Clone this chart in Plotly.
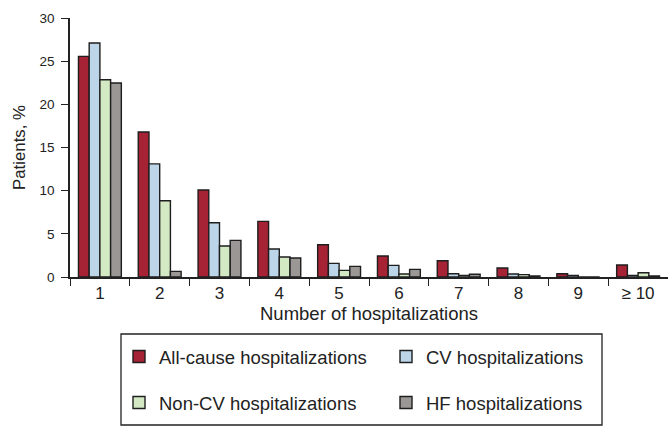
import plotly.graph_objects as go

categories = ["1", "2", "3", "4", "5", "6", "7", "8", "9", "≥ 10"]
all_cause = [25.55, 16.8, 10.08, 6.44, 3.74, 2.43, 1.89, 1.04, 0.38, 1.39]
cv = [27.1, 13.1, 6.29, 3.24, 1.58, 1.35, 0.38, 0.35, 0.19, 0.19]
non_cv = [22.85, 8.84, 3.59, 2.32, 0.77, 0.35, 0.19, 0.27, 0.0, 0.5]
hf = [22.47, 0.65, 4.24, 2.2, 1.23, 0.88, 0.31, 0.12, 0.0, 0.12]

series = [
    ("All-cause hospitalizations", all_cause, "#A52334", "legend"),
    ("CV hospitalizations", cv, "#BCD5E8", "legend2"),
    ("Non-CV hospitalizations", non_cv, "#D3E9C4", "legend3"),
    ("HF hospitalizations", hf, "#9B9795", "legend4"),
]

W, H = 668, 426
L, R, T, B = 70, 0, 18, 149
pw, ph = W - L - R, H - T - B

def px_x(p):
    return (p - L) / pw

def px_y(p):
    return (H - B - p) / ph

fig = go.Figure()
for name, vals, col, lg in series:
    fig.add_trace(go.Bar(
        x=categories, y=vals, name=name, legend=lg, showlegend=True,
        marker=dict(color=col, line=dict(color="#1E1E1E", width=1.4)),
    ))

font = "Liberation Sans, Arial, sans-serif"
leg_common = dict(orientation="h", font=dict(size=18.5, color="#222", family=font),
                  bgcolor="rgba(0,0,0,0)", borderwidth=0, xanchor="left", yanchor="middle",
                  visible=True)

fig.update_layout(
    width=W, height=H,
    margin=dict(l=L, r=R, t=T, b=B, autoexpand=False),
    paper_bgcolor="white", plot_bgcolor="white",
    showlegend=True,
    barmode="group", bargap=0.283, bargroupgap=0,
    font=dict(family=font, color="#222", size=14),
    xaxis=dict(
        type="category", tickson="boundaries", ticks="outside", ticklen=7,
        tickcolor="#222", tickwidth=1.3, showline=True, linecolor="#222", linewidth=1.5,
        showgrid=False, tickfont=dict(size=17),
        title=dict(text="Number of hospitalizations", font=dict(size=18.5), standoff=4),
    ),
    yaxis=dict(
        range=[0, 30], tickvals=[0, 5, 10, 15, 20, 25, 30], ticks="outside", ticklen=7,
        tickcolor="#222", tickwidth=1.3, showline=True, linecolor="#222", linewidth=1.5,
        showgrid=False, zeroline=False, tickfont=dict(size=13.5), ticklabelstandoff=4,
        title=dict(text="Patients, %", font=dict(size=16.8), standoff=10),
    ),
    legend=dict(x=px_x(119), y=px_y(357), **leg_common),
    legend2=dict(x=px_x(386), y=px_y(357), **leg_common),
    legend3=dict(x=px_x(119), y=px_y(403), **leg_common),
    legend4=dict(x=px_x(386), y=px_y(403), **leg_common),
    shapes=[dict(type="rect", xref="paper", yref="paper",
                 x0=px_x(121), x1=px_x(602), y0=px_y(334), y1=px_y(425),
                 line=dict(color="#222", width=1.3), fillcolor="rgba(0,0,0,0)")],
)

fig.write_html("out.html", config={"displayModeBar": False},
               post_script="document.body.style.margin='0';document.body.style.overflow='hidden';")
